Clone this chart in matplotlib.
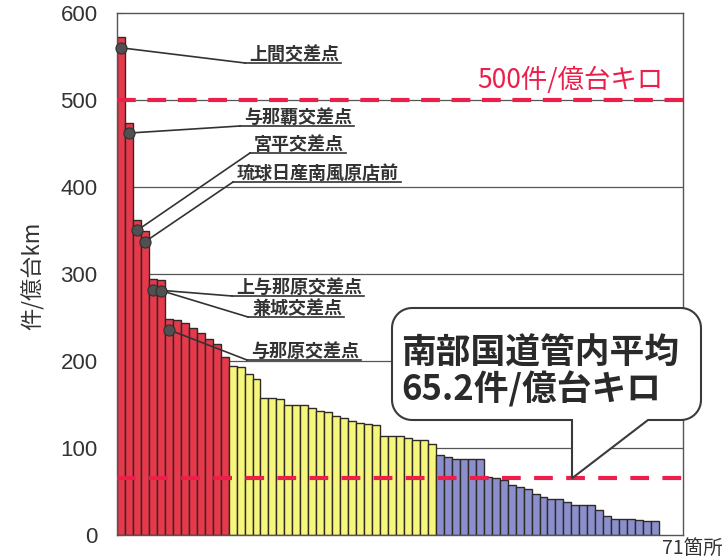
import matplotlib
matplotlib.use("Agg")
import matplotlib.pyplot as plt
from matplotlib.patches import Polygon
import numpy as np

# ---- data -------------------------------------------------------------
red_vals = [572, 474, 362, 349, 294, 293, 248, 247, 244, 238, 232, 225, 220, 205]
yellow_vals = [194, 193, 185, 179, 157, 157, 156, 149, 149, 149, 146, 142, 141,
               137, 134, 131, 129, 128, 126, 114, 114, 114, 111, 109, 109, 105]
blue_vals = [92, 90, 87, 87, 87, 87, 67, 65, 63, 58, 55, 53, 47, 44, 41, 41, 38,
             35, 35, 35, 29, 22, 18, 18, 18, 17, 16, 16]
n_sites = 71
y_ticks = [0, 100, 200, 300, 400, 500, 600]
y_label = "件/億台km"
x_end_label = "71箇所"
threshold = 500
threshold_label = "500件/億台キロ"
avg_value = 65.2
avg_title = "南部国道管内平均"
site_names = ["上間交差点", "与那覇交差点", "宮平交差点", "琉球日産南風原店前",
              "上与那原交差点", "兼城交差点", "与那原交差点"]

# ---- styling ----------------------------------------------------------
CJK = ["Noto Sans CJK JP", "DejaVu Sans"]
plt.rcParams["font.family"] = CJK
RED_FILL = "#E63A4C"
YEL_FILL = "#F6F67C"
BLU_FILL = "#8C8FCD"
EDGE = "#2e2a26"
DASH_RED = "#EC1F4B"
INK = "#333333"

W, H = 722, 557
fig = plt.figure(figsize=(W / 100, H / 100), dpi=100)
ax = fig.add_axes([117 / W, 1 - 535 / H, (683 - 117) / W, (535 - 13) / H])

vals = red_vals + yellow_vals + blue_vals
colors = ([RED_FILL] * len(red_vals) + [YEL_FILL] * len(yellow_vals)
          + [BLU_FILL] * len(blue_vals))
x = np.arange(len(vals))
ax.bar(x, vals, width=1.0, color=colors, edgecolor=EDGE, linewidth=1.0, zorder=2)

ax.set_xlim(-0.5, n_sites - 0.5)
ax.set_ylim(y_ticks[0], y_ticks[-1])
ax.set_xticks([])
ax.set_yticks(y_ticks)
ax.set_yticklabels([str(t) for t in y_ticks], family=["Liberation Sans"],
                   fontsize=16, color=INK)
ax.tick_params(axis="y", direction="in", length=4, pad=14, color="#555555")
for t in y_ticks[1:-1]:
    ax.axhline(t, color="#555555", lw=0.9, zorder=1)
for s in ax.spines.values():
    s.set_color("#555555")
    s.set_linewidth(1.0)

# reference lines
ax.axhline(threshold, color=DASH_RED, lw=3, dashes=(4.5, 2.8), zorder=4)
ax.axhline(avg_value, color=DASH_RED, lw=3, dashes=(4.5, 3.2), zorder=4)

# ---- overlay in pixel coordinates for labels and callout ----------------
ov = fig.add_axes([0, 0, 1, 1], facecolor="none", zorder=5)
ov.set_xlim(0, W)
ov.set_ylim(H, 0)
ov.axis("off")


def to_px(xd, yd):
    return ov.transData.inverted().transform(ax.transData.transform((xd, yd)))


ov.text(33, 276, y_label, rotation=90, ha="center", va="center",
        fontsize=16, color=INK)
ov.text(662, 548, x_end_label, ha="left", va="center", fontsize=14, color=INK)
ov.text(477, 80, threshold_label, ha="left", va="center", fontsize=19,
        color=DASH_RED)

# site labels with leader lines
leader_ends = [(245, 63), (240, 126), (250, 153), (233, 182),
               (232, 296), (248, 317), (247, 360)]
label_texts = []
for i, (name, (ex, ey)) in enumerate(zip(site_names, leader_ends)):
    mx, my = to_px(i, vals[i] - 12)
    ov.plot([mx, ex], [my, ey], color=INK, lw=1.2, zorder=3)
    ov.plot([mx], [my], marker="o", ms=8, color="#505050",
            mec="#303030", mew=0.8, zorder=4)
    t = ov.text(ex + 4, ey - 3, name, ha="left", va="baseline", fontsize=13,
                fontweight="bold", color=INK)
    label_texts.append((t, ex, ey))

fig.canvas.draw()
renderer = fig.canvas.get_renderer()
for t, ex, ey in label_texts:
    bb = t.get_window_extent(renderer)
    x1 = ov.transData.inverted().transform((bb.x1, bb.y0))[0]
    ov.plot([ex, x1 + 2], [ey, ey], color=INK, lw=1.2, zorder=3)


# callout balloon pointing at the average line
def balloon(x0, y0, x1, y1, r, ta, tb, tip):
    pts = []
    def arc(cx, cy, a0, a1):
        for a in np.linspace(np.radians(a0), np.radians(a1), 12):
            pts.append((cx + r * np.cos(a), cy + r * np.sin(a)))
    arc(x1 - r, y0 + r, -90, 0)
    arc(x1 - r, y1 - r, 0, 90)
    pts.extend([(tb, y1), tip, (ta, y1)])
    arc(x0 + r, y1 - r, 90, 180)
    arc(x0 + r, y0 + r, 180, 270)
    return pts


tip_px = (572, to_px(0, avg_value)[1])
ov.add_patch(Polygon(balloon(392, 308, 701, 420, 20, 572, 648, tip_px),
                     closed=True, facecolor="white", edgecolor="#3a3a3a",
                     lw=1.5, zorder=6))
ov.text(401, 353, avg_title, ha="left", va="center", fontsize=25,
        fontweight="bold", color="#2a2a2a", zorder=7)
ov.text(401, 389, f"{avg_value}件/億台キロ", ha="left", va="center",
        fontsize=25, fontweight="bold", color="#2a2a2a", zorder=7)

fig.savefig("out.png", dpi=100)
